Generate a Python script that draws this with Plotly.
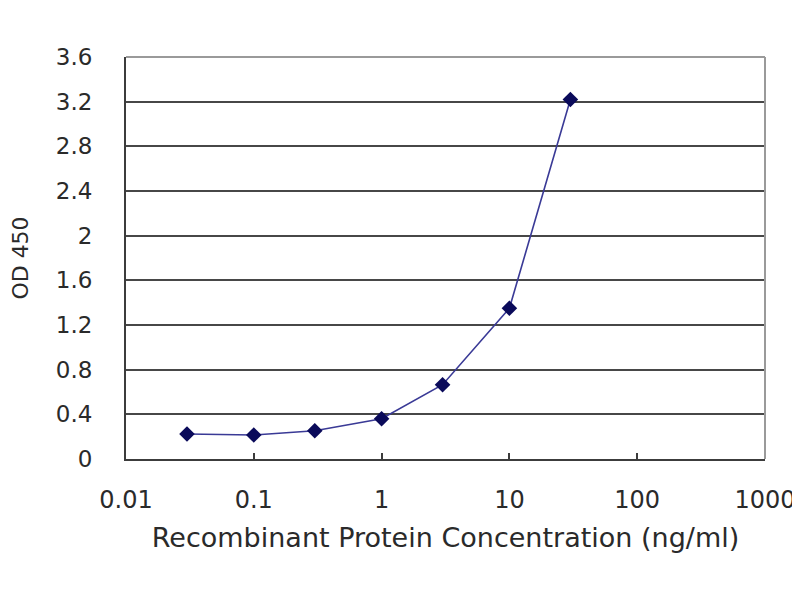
import plotly.graph_objects as go

concentration = [0.03, 0.1, 0.3, 1, 3, 10, 30]
od450 = [0.224, 0.215, 0.253, 0.36, 0.665, 1.35, 3.22]

x_ticks = [0.01, 0.1, 1, 10, 100, 1000]
x_tick_labels = ["0.01", "0.1", "1", "10", "100", "1000"]
y_ticks = [0, 0.4, 0.8, 1.2, 1.6, 2, 2.4, 2.8, 3.2, 3.6]
y_tick_labels = ["0", "0.4", "0.8", "1.2", "1.6", "2", "2.4", "2.8", "3.2", "3.6"]

font_family = "DejaVu Sans, Liberation Sans, Arial, sans-serif"

fig = go.Figure()
fig.add_trace(go.Scatter(
    x=concentration, y=od450, mode="lines+markers",
    line=dict(color="#3a3a96", width=1.6),
    marker=dict(symbol="diamond", size=12, color="#0a0a5a"),
    showlegend=False,
))

fig.update_layout(
    width=800, height=600,
    margin=dict(l=118, r=43, t=49, b=149, autoexpand=False),
    paper_bgcolor="white", plot_bgcolor="white",
    font=dict(family=font_family, color="#2a2a2a", size=22),
)
fig.update_xaxes(
    type="log", range=[-2, 3],
    tickvals=x_ticks, ticktext=x_tick_labels,
    showgrid=False, zeroline=False,
    showline=True, linecolor="#3c3c3c", linewidth=2,
    ticks="inside", ticklen=6, tickwidth=2, tickcolor="#3c3c3c",
    tickfont=dict(size=24), ticklabelstandoff=18,
    title=dict(text="Recombinant Protein Concentration (ng/ml)", font=dict(size=27), standoff=15),
)
fig.update_yaxes(
    range=[0, 3.6],
    tickvals=y_ticks, ticktext=y_tick_labels,
    showgrid=True, gridcolor="#474747", gridwidth=2,
    zeroline=False,
    showline=True, linecolor="#3c3c3c", linewidth=2,
    ticks="", tickfont=dict(size=23), ticklabelstandoff=27,
    title=dict(text="OD 450", font=dict(size=22), standoff=28),
)
# light gray top/right frame
fig.add_shape(type="line", xref="paper", yref="paper", x0=0, x1=1, y0=1, y1=1,
              line=dict(color="#9a9a9a", width=2), layer="above")
fig.add_shape(type="line", xref="paper", yref="paper", x0=1, x1=1, y0=0, y1=1,
              line=dict(color="#9a9a9a", width=2), layer="above")

fig.write_html("out.html")
